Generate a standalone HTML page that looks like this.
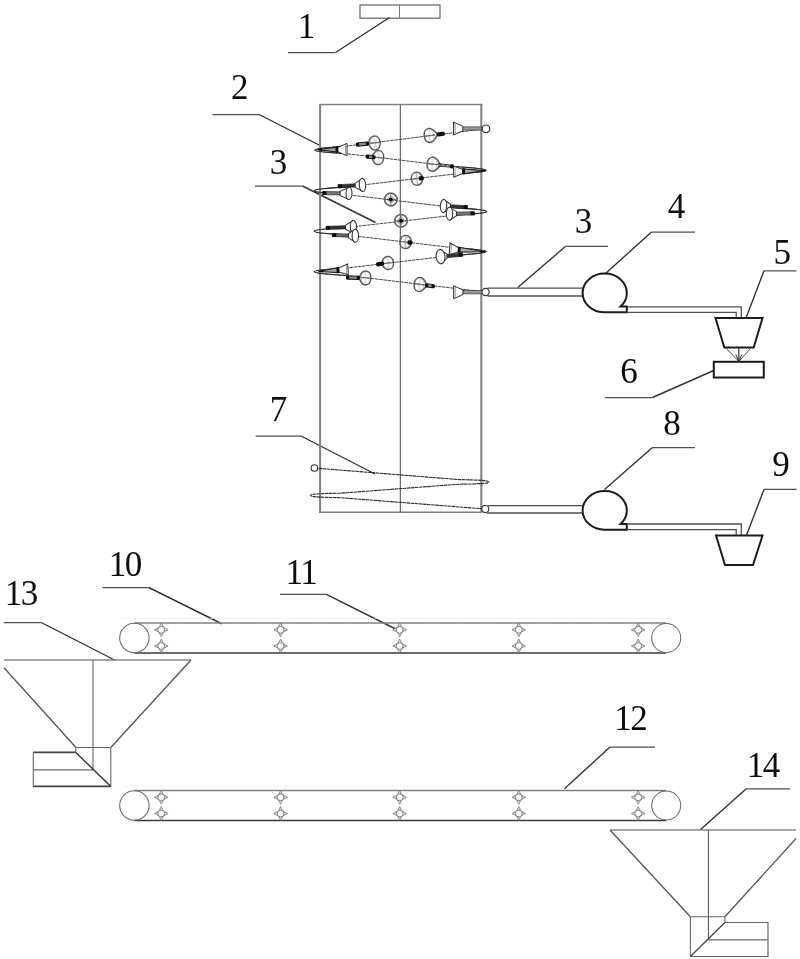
<!DOCTYPE html>
<html><head><meta charset="utf-8"><title>Figure</title>
<style>
html,body{margin:0;padding:0;background:#fff;}
body{width:800px;height:959px;overflow:hidden;font-family:"Liberation Serif",serif;}
svg{display:block;}
.lb{font-family:"Liberation Serif",serif;font-size:35px;fill:#111;}
</style></head><body>
<svg width="800" height="959" viewBox="0 0 800 959">
<rect width="800" height="959" fill="#fff"/>
<g filter="url(#soft)">
<rect x="360" y="5" width="80" height="13.2" fill="none" stroke="#606060" stroke-width="1.2"/>
<line x1="399.5" y1="5" x2="399.5" y2="18" stroke="#777" stroke-width="1" />
<line x1="288" y1="52.5" x2="335.5" y2="52.5" stroke="#505050" stroke-width="1.25" />
<line x1="335.5" y1="52.5" x2="389.5" y2="17.5" stroke="#333" stroke-width="1.4" />
<text x="297.80" y="38.20" class="lb">1</text>
<line x1="212.5" y1="114.5" x2="259" y2="114.5" stroke="#505050" stroke-width="1.25" />
<line x1="259" y1="114.5" x2="320" y2="145.5" stroke="#333" stroke-width="1.4" />
<text x="231.00" y="99.40" class="lb">2</text>
<line x1="255" y1="186" x2="302.5" y2="186" stroke="#505050" stroke-width="1.25" />
<line x1="302.5" y1="186" x2="375.5" y2="222.5" stroke="#333" stroke-width="1.4" />
<text x="269.80" y="174.20" class="lb">3</text>
<line x1="565.6" y1="246.3" x2="608" y2="246.3" stroke="#505050" stroke-width="1.25" />
<line x1="565.6" y1="246.3" x2="517.7" y2="287.5" stroke="#333" stroke-width="1.4" />
<text x="574.80" y="232.70" class="lb">3</text>
<line x1="651.5" y1="232.1" x2="695" y2="232.1" stroke="#505050" stroke-width="1.25" />
<line x1="651.5" y1="232.1" x2="605" y2="274" stroke="#333" stroke-width="1.4" />
<text x="667.80" y="218.40" class="lb">4</text>
<line x1="764" y1="270.8" x2="796.4" y2="270.8" stroke="#505050" stroke-width="1.25" />
<line x1="764" y1="270.8" x2="746" y2="318" stroke="#333" stroke-width="1.4" />
<text x="773.60" y="264.20" class="lb">5</text>
<line x1="605" y1="397.5" x2="652.5" y2="397.5" stroke="#505050" stroke-width="1.25" />
<line x1="652.5" y1="397.5" x2="713.75" y2="370.5" stroke="#333" stroke-width="1.4" />
<text x="620.30" y="382.70" class="lb">6</text>
<line x1="255.6" y1="436" x2="301" y2="436" stroke="#505050" stroke-width="1.25" />
<line x1="301" y1="436" x2="375" y2="474" stroke="#333" stroke-width="1.4" />
<text x="269.80" y="421.20" class="lb">7</text>
<line x1="652.5" y1="447.5" x2="695" y2="447.5" stroke="#505050" stroke-width="1.25" />
<line x1="652.5" y1="447.5" x2="604.5" y2="489.5" stroke="#333" stroke-width="1.4" />
<text x="663.30" y="435.20" class="lb">8</text>
<line x1="764" y1="489.4" x2="796.6" y2="489.4" stroke="#505050" stroke-width="1.25" />
<line x1="764" y1="489.4" x2="746.25" y2="536" stroke="#333" stroke-width="1.4" />
<text x="772.30" y="476.20" class="lb">9</text>
<line x1="102.5" y1="587.5" x2="148.75" y2="587.5" stroke="#505050" stroke-width="1.25" />
<line x1="148.75" y1="587.5" x2="221.75" y2="623.75" stroke="#333" stroke-width="1.4" />
<text x="108.80" y="575.70" class="lb" letter-spacing="-1.5">10</text>
<line x1="280" y1="594.4" x2="326.4" y2="594.4" stroke="#505050" stroke-width="1.25" />
<line x1="326.4" y1="594.4" x2="400.6" y2="631.5" stroke="#333" stroke-width="1.4" />
<text x="285.60" y="584.20" class="lb" letter-spacing="-1.5">11</text>
<line x1="610" y1="747" x2="655" y2="747" stroke="#505050" stroke-width="1.25" />
<line x1="610" y1="747" x2="564.5" y2="788.75" stroke="#333" stroke-width="1.4" />
<text x="614.30" y="730.20" class="lb" letter-spacing="-1.5">12</text>
<line x1="3.75" y1="622.5" x2="41.25" y2="622.5" stroke="#505050" stroke-width="1.25" />
<line x1="41.25" y1="622.5" x2="115.5" y2="660.5" stroke="#333" stroke-width="1.4" />
<text x="4.80" y="605.20" class="lb" letter-spacing="-1.5">13</text>
<line x1="746.25" y1="788.75" x2="790" y2="788.75" stroke="#505050" stroke-width="1.25" />
<line x1="746.25" y1="788.75" x2="700" y2="830" stroke="#333" stroke-width="1.4" />
<text x="746.70" y="776.60" class="lb" letter-spacing="-1.5">14</text>
<line x1="319.2" y1="104.6" x2="482.2" y2="104.6" stroke="#808080" stroke-width="1.5" />
<line x1="319.2" y1="512.3" x2="482.2" y2="512.3" stroke="#808080" stroke-width="1.5" />
<line x1="320.1" y1="104" x2="320.1" y2="513" stroke="#858585" stroke-width="2.1" />
<line x1="481.3" y1="104" x2="481.3" y2="513" stroke="#858585" stroke-width="2.1" />
<line x1="400.3" y1="104.5" x2="400.3" y2="512.3" stroke="#505050" stroke-width="1.05" />
<path d="M485.5,128.75 L347.3,146.0 C326.6,147.4 314.7,148.5 314.7,150.0 C314.7,151.5 326.6,152.5 347.3,153.8 L453.7,166.5 C474.4,167.8 486.3,168.8 486.3,170.3 C486.3,171.8 474.4,172.8 453.7,174.1 L346.8,186.9 C326.1,188.2 314.2,189.2 314.2,190.8 C314.2,192.2 326.1,193.3 346.8,194.6 L454.2,207.6 C474.9,208.9 486.8,210.0 486.8,211.5 C486.8,213.0 474.9,214.0 454.2,215.2 L346.8,227.5 C326.1,228.7 314.2,229.7 314.2,231.2 C314.2,232.7 326.1,233.7 346.8,235.0 L453.7,247.8 C474.4,249.1 486.3,250.1 486.3,251.6 C486.3,253.1 474.4,254.1 453.7,255.4 L346.8,268.0 C326.1,269.2 314.2,270.2 314.2,271.8 C314.2,273.2 326.1,274.3 346.8,275.5 L485.5,292" fill="none" stroke="#404040" stroke-width="0.95" stroke-dasharray="3.6 0.6"/>
<path d="M347.3,146.0 C326.6,147.4 314.7,148.5 314.7,150.0 C314.7,151.5 326.6,152.5 347.3,153.8" fill="none" stroke="#2a2a2a" stroke-width="1.15"/>
<path d="M453.7,166.5 C474.4,167.8 486.3,168.8 486.3,170.3 C486.3,171.8 474.4,172.8 453.7,174.1" fill="none" stroke="#2a2a2a" stroke-width="1.15"/>
<path d="M346.8,186.9 C326.1,188.2 314.2,189.2 314.2,190.8 C314.2,192.2 326.1,193.3 346.8,194.6" fill="none" stroke="#2a2a2a" stroke-width="1.15"/>
<path d="M454.2,207.6 C474.9,208.9 486.8,210.0 486.8,211.5 C486.8,213.0 474.9,214.0 454.2,215.2" fill="none" stroke="#2a2a2a" stroke-width="1.15"/>
<path d="M346.8,227.5 C326.1,228.7 314.2,229.7 314.2,231.2 C314.2,232.7 326.1,233.7 346.8,235.0" fill="none" stroke="#2a2a2a" stroke-width="1.15"/>
<path d="M453.7,247.8 C474.4,249.1 486.3,250.1 486.3,251.6 C486.3,253.1 474.4,254.1 453.7,255.4" fill="none" stroke="#2a2a2a" stroke-width="1.15"/>
<path d="M346.8,268.0 C326.1,269.2 314.2,270.2 314.2,271.8 C314.2,273.2 326.1,274.3 346.8,275.5" fill="none" stroke="#2a2a2a" stroke-width="1.15"/>
<g transform="translate(453.5,128.5) rotate(0) scale(1,1)"><polygon points="0,-6.5 9.5,-2.2 9.5,2.2 0,6.5" fill="#fff" stroke="#333" stroke-width="1"/><line x1="1.6" y1="-5.7" x2="1.6" y2="5.7" stroke="#666" stroke-width="0.7"/><rect x="9.5" y="-1.6" width="19" height="3.2" fill="#999" stroke="#222" stroke-width="0.6"/></g>
<g transform="translate(347,149.6) rotate(0) scale(-1,1)"><polygon points="0,-6.3 9.5,-1.9 9.5,1.9 0,6.3" fill="#fff" stroke="#333" stroke-width="1"/><line x1="1.5" y1="-5.5" x2="1.5" y2="5.5" stroke="#777" stroke-width="0.7"/><polygon points="9.5,-2.5 29.5,0 9.5,2.5" fill="#aaa" stroke="#222" stroke-width="1.15"/><rect x="8.7" y="-2.9" width="2.8" height="5.8" fill="#111"/><polygon points="25.0,-1.3 30.0,0 25.0,1.3" fill="#111"/></g>
<g transform="translate(348,269.4) rotate(-4) scale(-1,1)"><polygon points="0,-5.4 9.5,-1.9 9.5,1.9 0,5.4" fill="#fff" stroke="#333" stroke-width="1"/><line x1="1.5" y1="-4.6000000000000005" x2="1.5" y2="4.6000000000000005" stroke="#777" stroke-width="0.7"/><polygon points="9.5,-2.5 29.5,0 9.5,2.5" fill="#aaa" stroke="#222" stroke-width="1.15"/><rect x="8.7" y="-2.9" width="2.8" height="5.8" fill="#111"/><polygon points="25.0,-1.3 30.0,0 25.0,1.3" fill="#111"/></g>
<g transform="translate(453.6,292.3) rotate(0) scale(1,1)"><polygon points="0,-6.5 9.5,-2.2 9.5,2.2 0,6.5" fill="#fff" stroke="#333" stroke-width="1"/><line x1="1.6" y1="-5.7" x2="1.6" y2="5.7" stroke="#666" stroke-width="0.7"/><rect x="9.5" y="-1.6" width="19" height="3.2" fill="#999" stroke="#222" stroke-width="0.6"/></g>
<g transform="translate(453.6,171.7) rotate(-2) scale(1,1)"><polygon points="0,-5.6 9.5,-1.9 9.5,1.9 0,5.6" fill="#fff" stroke="#333" stroke-width="1"/><line x1="1.5" y1="-4.8" x2="1.5" y2="4.8" stroke="#777" stroke-width="0.7"/><polygon points="9.5,-2.5 32.0,0 9.5,2.5" fill="#aaa" stroke="#222" stroke-width="1.15"/><rect x="8.7" y="-2.9" width="2.8" height="5.8" fill="#111"/><polygon points="27.5,-1.3 32.5,0 27.5,1.3" fill="#111"/></g>
<g transform="translate(362.5,185) rotate(-3) scale(-1,1)"><polygon points="0,-6.5 7.5,-2 7.5,2 0,6.5" fill="#fff" stroke="#333" stroke-width="1"/><ellipse cx="0" cy="0" rx="3.2" ry="6.5" fill="#fff" stroke="#333" stroke-width="1.1"/><rect x="7.5" y="-1.6" width="17" height="3.2" fill="#333" stroke="#222" stroke-width="0.6"/><rect x="20.5" y="-1.9" width="4" height="3.8" fill="#111"/></g>
<g transform="translate(349,193.5) rotate(1) scale(-1,1)"><polygon points="0,-6 9,-2 9,2 0,6" fill="#fff" stroke="#333" stroke-width="1"/><ellipse cx="0" cy="0" rx="3" ry="6" fill="#fff" stroke="#333" stroke-width="1.1"/><rect x="9" y="-1.6" width="17.5" height="3.2" fill="#777" stroke="#222" stroke-width="0.6"/><rect x="22.5" y="-1.9" width="4" height="3.8" fill="#111"/></g>
<g transform="translate(443.5,206) rotate(3) scale(1,1)"><polygon points="0,-6.5 7,-2 7,2 0,6.5" fill="#fff" stroke="#333" stroke-width="1"/><ellipse cx="0" cy="0" rx="3.2" ry="6.5" fill="#fff" stroke="#333" stroke-width="1.1"/><rect x="7" y="-1.6" width="17" height="3.2" fill="#333" stroke="#222" stroke-width="0.6"/><rect x="20" y="-1.9" width="4" height="3.8" fill="#111"/></g>
<g transform="translate(449.5,213.8) rotate(-1) scale(1,1)"><polygon points="0,-6.5 7,-2 7,2 0,6.5" fill="#fff" stroke="#333" stroke-width="1"/><ellipse cx="0" cy="0" rx="3.2" ry="6.5" fill="#fff" stroke="#333" stroke-width="1.1"/><rect x="7" y="-1.6" width="18" height="3.2" fill="#777" stroke="#222" stroke-width="0.6"/><rect x="21" y="-1.9" width="4" height="3.8" fill="#111"/></g>
<g transform="translate(353.5,227) rotate(-2) scale(-1,1)"><polygon points="0,-6.5 8,-2 8,2 0,6.5" fill="#fff" stroke="#333" stroke-width="1"/><ellipse cx="0" cy="0" rx="3.2" ry="6.5" fill="#fff" stroke="#333" stroke-width="1.1"/><rect x="8" y="-1.6" width="19.5" height="3.2" fill="#333" stroke="#222" stroke-width="0.6"/><rect x="23.5" y="-1.9" width="4" height="3.8" fill="#111"/></g>
<g transform="translate(355.3,235.8) rotate(2) scale(-1,1)"><polygon points="0,-6.5 7,-2 7,2 0,6.5" fill="#fff" stroke="#333" stroke-width="1"/><ellipse cx="0" cy="0" rx="3.2" ry="6.5" fill="#fff" stroke="#333" stroke-width="1.1"/><rect x="7" y="-1.6" width="16" height="3.2" fill="#666" stroke="#222" stroke-width="0.6"/><rect x="19" y="-1.9" width="4" height="3.8" fill="#111"/></g>
<g transform="translate(449.6,249) rotate(4.5) scale(1,1)"><polygon points="0,-6 9,-1.9 9,1.9 0,6" fill="#fff" stroke="#333" stroke-width="1"/><line x1="1.5" y1="-5.2" x2="1.5" y2="5.2" stroke="#777" stroke-width="0.7"/><polygon points="9,-2.5 35.5,0 9,2.5" fill="#aaa" stroke="#222" stroke-width="1.15"/><rect x="8.2" y="-2.9" width="2.8" height="5.8" fill="#111"/><polygon points="31.0,-1.3 36.0,0 31.0,1.3" fill="#111"/></g>
<g transform="translate(440.6,256.6) rotate(-5) scale(1,1)"><polygon points="0,-7.2 6.5,-2 6.5,2 0,7.2" fill="#fff" stroke="#333" stroke-width="1"/><ellipse cx="0" cy="0" rx="4.4" ry="7.2" fill="#fff" stroke="#333" stroke-width="1.1"/><rect x="6.5" y="-1.6" width="15.5" height="3.2" fill="#333" stroke="#222" stroke-width="0.6"/><rect x="18.0" y="-1.9" width="4" height="3.8" fill="#111"/></g>
<g transform="translate(429.5,135.5) rotate(-7) scale(1,1)"><path d="M0,-7 C-7.182000000000001,-7 -7.182000000000001,7 0,7 C4.050000000000001,7 5.4,3.15 8.4,0 C5.4,-3.15 4.050000000000001,-7 0,-7Z" fill="none" stroke="#5a5a5a" stroke-width="1.5"/><ellipse cx="1.89" cy="0" rx="2.43" ry="5.6000000000000005" fill="none" stroke="#aaa" stroke-width="0.6"/><line x1="-5.4" y1="0" x2="5.4" y2="0" stroke="#666" stroke-width="0.8"/><rect x="7.5" y="-2.1" width="8.0" height="4.2" rx="1.4" fill="#111"/></g>
<g transform="translate(374.8,143) rotate(-5) scale(-1,1)"><path d="M0,-7 C-7.182000000000001,-7 -7.182000000000001,7 0,7 C4.050000000000001,7 5.4,3.15 6.4,0 C5.4,-3.15 4.050000000000001,-7 0,-7Z" fill="none" stroke="#5a5a5a" stroke-width="1.5"/><ellipse cx="1.89" cy="0" rx="2.43" ry="5.6000000000000005" fill="none" stroke="#aaa" stroke-width="0.6"/><line x1="-5.4" y1="0" x2="5.4" y2="0" stroke="#666" stroke-width="0.8"/><rect x="5.8" y="-2.1" width="13.2" height="4.2" rx="1.4" fill="#111"/><rect x="9.0" y="-1.2" width="6.799999999999999" height="2.4" fill="#8a8a8a"/></g>
<g transform="translate(378.3,157.6) rotate(5) scale(-1,1)"><path d="M0,-7 C-7.182000000000001,-7 -7.182000000000001,7 0,7 C4.050000000000001,7 5.4,3.15 6.4,0 C5.4,-3.15 4.050000000000001,-7 0,-7Z" fill="none" stroke="#5a5a5a" stroke-width="1.5"/><ellipse cx="1.89" cy="0" rx="2.43" ry="5.6000000000000005" fill="none" stroke="#aaa" stroke-width="0.6"/><line x1="-5.4" y1="0" x2="5.4" y2="0" stroke="#666" stroke-width="0.8"/><rect x="2.8" y="-2.1" width="9.8" height="4.2" rx="1.4" fill="#111"/><rect x="6.0" y="-1.2" width="3.4000000000000004" height="2.4" fill="#8a8a8a"/></g>
<g transform="translate(432.5,164.3) rotate(6) scale(1,1)"><path d="M0,-7 C-7.182000000000001,-7 -7.182000000000001,7 0,7 C4.050000000000001,7 5.4,3.15 8.4,0 C5.4,-3.15 4.050000000000001,-7 0,-7Z" fill="none" stroke="#5a5a5a" stroke-width="1.5"/><ellipse cx="1.89" cy="0" rx="2.43" ry="5.6000000000000005" fill="none" stroke="#aaa" stroke-width="0.6"/><line x1="-5.4" y1="0" x2="5.4" y2="0" stroke="#666" stroke-width="0.8"/><rect x="17.5" y="-2.1" width="4.0" height="4.2" rx="1.4" fill="#111"/></g>
<line x1="438" y1="163.6" x2="450" y2="165" stroke="#222" stroke-width="0.9" />
<line x1="438" y1="166" x2="450" y2="167.2" stroke="#222" stroke-width="0.9" />
<g transform="translate(416.8,178.8) rotate(-7) scale(1,1)"><path d="M0,-6.5 C-7.315,-6.5 -7.315,6.5 0,6.5 C4.125,6.5 5.5,2.9250000000000003 6.0,0 C5.5,-2.9250000000000003 4.125,-6.5 0,-6.5Z" fill="none" stroke="#5a5a5a" stroke-width="1.5"/><ellipse cx="1.9249999999999998" cy="0" rx="2.475" ry="5.2" fill="none" stroke="#aaa" stroke-width="0.6"/><line x1="-5.5" y1="0" x2="5.5" y2="0" stroke="#666" stroke-width="0.8"/><line x1="0" y1="-6.5" x2="0" y2="6.5" stroke="#999" stroke-width="0.6"/><rect x="2" y="-2.1" width="5" height="4.2" rx="1.4" fill="#111"/></g>
<circle cx="390.8" cy="199.5" r="6.3" fill="none" stroke="#666" stroke-width="1.7"/>
<circle cx="390.8" cy="199.5" r="3.15" fill="none" stroke="#888" stroke-width="0.7"/>
<line x1="384.5" y1="199.5" x2="397.1" y2="199.5" stroke="#555" stroke-width="0.8" />
<line x1="390.8" y1="193.2" x2="390.8" y2="205.8" stroke="#666" stroke-width="0.8" />
<circle cx="390.8" cy="199.5" r="2.1" fill="#111"/>
<circle cx="401" cy="220.8" r="6.3" fill="none" stroke="#666" stroke-width="1.7"/>
<circle cx="401" cy="220.8" r="3.15" fill="none" stroke="#888" stroke-width="0.7"/>
<line x1="394.7" y1="220.8" x2="407.3" y2="220.8" stroke="#555" stroke-width="0.8" />
<line x1="401" y1="214.5" x2="401" y2="227.10000000000002" stroke="#666" stroke-width="0.8" />
<circle cx="401" cy="220.8" r="2.1" fill="#111"/>
<g transform="translate(405.5,242) rotate(7) scale(1,1)"><path d="M0,-6.5 C-7.315,-6.5 -7.315,6.5 0,6.5 C4.125,6.5 5.5,2.9250000000000003 6.0,0 C5.5,-2.9250000000000003 4.125,-6.5 0,-6.5Z" fill="none" stroke="#5a5a5a" stroke-width="1.5"/><ellipse cx="1.9249999999999998" cy="0" rx="2.475" ry="5.2" fill="none" stroke="#aaa" stroke-width="0.6"/><line x1="-5.5" y1="0" x2="5.5" y2="0" stroke="#666" stroke-width="0.8"/><line x1="0" y1="-6.5" x2="0" y2="6.5" stroke="#999" stroke-width="0.6"/><rect x="2" y="-2.1" width="5" height="4.2" rx="1.4" fill="#111"/></g>
<g transform="translate(388,263) rotate(-7) scale(-1,1)"><path d="M0,-6.5 C-7.315,-6.5 -7.315,6.5 0,6.5 C4.125,6.5 5.5,2.9250000000000003 6.5,0 C5.5,-2.9250000000000003 4.125,-6.5 0,-6.5Z" fill="none" stroke="#5a5a5a" stroke-width="1.5"/><ellipse cx="1.9249999999999998" cy="0" rx="2.475" ry="5.2" fill="none" stroke="#aaa" stroke-width="0.6"/><line x1="-5.5" y1="0" x2="5.5" y2="0" stroke="#666" stroke-width="0.8"/><rect x="4" y="-2.1" width="8" height="4.2" rx="1.4" fill="#111"/></g>
<g transform="translate(365.5,277.9) rotate(1) scale(-1,1)"><path d="M0,-7 C-7.182000000000001,-7 -7.182000000000001,7 0,7 C4.050000000000001,7 5.4,3.15 6.4,0 C5.4,-3.15 4.050000000000001,-7 0,-7Z" fill="none" stroke="#5a5a5a" stroke-width="1.5"/><ellipse cx="1.89" cy="0" rx="2.43" ry="5.6000000000000005" fill="none" stroke="#aaa" stroke-width="0.6"/><line x1="-5.4" y1="0" x2="5.4" y2="0" stroke="#666" stroke-width="0.8"/><rect x="5.5" y="-2.1" width="14.0" height="4.2" rx="1.4" fill="#111"/><rect x="8.7" y="-1.2" width="7.6" height="2.4" fill="#8a8a8a"/></g>
<g transform="translate(419.5,284.5) rotate(7) scale(1,1)"><path d="M0,-7 C-7.182000000000001,-7 -7.182000000000001,7 0,7 C4.050000000000001,7 5.4,3.15 7.4,0 C5.4,-3.15 4.050000000000001,-7 0,-7Z" fill="none" stroke="#5a5a5a" stroke-width="1.5"/><ellipse cx="1.89" cy="0" rx="2.43" ry="5.6000000000000005" fill="none" stroke="#aaa" stroke-width="0.6"/><line x1="-5.4" y1="0" x2="5.4" y2="0" stroke="#666" stroke-width="0.8"/><rect x="5.5" y="-2.1" width="10.0" height="4.2" rx="1.4" fill="#111"/><rect x="8.7" y="-1.2" width="3.5999999999999996" height="2.4" fill="#8a8a8a"/></g>
<circle cx="486" cy="128.8" r="3.8" fill="#fff" stroke="#333" stroke-width="1.2"/>
<circle cx="485.6" cy="292" r="3.6" fill="#fff" stroke="#333" stroke-width="1.2"/>
<path d="M314.4,468 L458.9,479.6 C478.3,480.0 488.8,480.4 488.8,482.0 C488.8,483.6 478.3,483.9 458.9,484.2 L340.5,493.2 C321.1,493.5 310.6,493.8 310.6,495.4 C310.6,497.0 321.1,497.3 340.5,497.7 L485.3,509" fill="none" stroke="#2a2a2a" stroke-width="1.1" stroke-dasharray="3.6 0.5"/>
<circle cx="314.4" cy="468" r="3.3" fill="#fff" stroke="#333" stroke-width="1.1"/>
<circle cx="485.3" cy="509" r="3.5" fill="#fff" stroke="#333" stroke-width="1.1"/>
<line x1="487.5" y1="288.2" x2="583" y2="288.2" stroke="#505050" stroke-width="1.3" />
<line x1="487.5" y1="296" x2="583" y2="296" stroke="#505050" stroke-width="1.3" />
<path d="M604.7,312.3 A22.099999999999966,19.349999999999994 0 0 1 582.6,292.95000000000005 A22.099999999999966,19.349999999999994 0 0 1 604.7,273.6 A22.099999999999966,19.349999999999994 0 0 1 626.8,292.95000000000005 A22.099999999999966,19.349999999999994 0 0 1 620.59,306.40000000000003 L626.8,306.40000000000003 L626.8,312.3 Z" fill="#fff" stroke="#1c1c1c" stroke-width="2" stroke-linejoin="miter"/>
<polyline points="627,306.9 741.3,306.9 741.3,318" stroke="#505050" stroke-width="1.3" fill="none" />
<polyline points="627,312.4 736.2,312.4 736.2,318" stroke="#505050" stroke-width="1.3" fill="none" />
<polygon points="715.5,318 762.5,318 753.7,347.5 724.3,347.5" stroke="#1c1c1c" stroke-width="2" fill="#fff" />
<line x1="738.8" y1="347.5" x2="738.8" y2="361" stroke="#333" stroke-width="1.2" />
<line x1="726.5" y1="348.5" x2="738.8" y2="361.5" stroke="#444" stroke-width="1" />
<line x1="750.5" y1="348.5" x2="738.8" y2="361.5" stroke="#444" stroke-width="1" />
<polyline points="735.8,354.5 738.8,361.5 741.8,354.5" stroke="#333" stroke-width="1" fill="none" />
<rect x="713.8" y="361.8" width="50" height="15.7" fill="#fff" stroke="#1c1c1c" stroke-width="2"/>
<line x1="488" y1="505.6" x2="583" y2="505.6" stroke="#505050" stroke-width="1.3" />
<line x1="486.5" y1="513" x2="583" y2="513" stroke="#505050" stroke-width="1.3" />
<path d="M604.7,529.8 A22.099999999999966,19.399999999999977 0 0 1 582.6,510.4 A22.099999999999966,19.399999999999977 0 0 1 604.7,491 A22.099999999999966,19.399999999999977 0 0 1 626.8,510.4 A22.099999999999966,19.399999999999977 0 0 1 620.57,523.9 L626.8,523.9 L626.8,529.8 Z" fill="#fff" stroke="#1c1c1c" stroke-width="2" stroke-linejoin="miter"/>
<polyline points="627,524 741.3,524 741.3,535.5" stroke="#505050" stroke-width="1.3" fill="none" />
<polyline points="627,529.6 736.2,529.6 736.2,535.5" stroke="#505050" stroke-width="1.3" fill="none" />
<polygon points="716,535.5 762.5,535.5 753,565 725,565" stroke="#1c1c1c" stroke-width="2" fill="#fff" />
<line x1="134.4" y1="623" x2="666.2" y2="623" stroke="#808080" stroke-width="1.3" />
<line x1="134.4" y1="653" x2="666.2" y2="653" stroke="#3a3a3a" stroke-width="1.4" />
<line x1="123" y1="618.5" x2="672" y2="618.5" stroke="#e6e6e6" stroke-width="0.8" stroke-dasharray="2 1.5"/>
<circle cx="134.4" cy="638" r="14.7" fill="none" stroke="#6a6a6a" stroke-width="1.05"/>
<circle cx="666.2" cy="638" r="14.5" fill="none" stroke="#6a6a6a" stroke-width="1.05"/>
<path d="M161.25,622.9 L163.45,627.1999999999999 L159.05,627.1999999999999Z M161.25,636.6999999999999 L163.45,632.4 L159.05,632.4Z M154.35,629.8 L158.65,627.5999999999999 L158.65,632.0Z M168.15,629.8 L163.85,627.5999999999999 L163.85,632.0Z" fill="#ddd" stroke="#777" stroke-width="0.8"/>
<circle cx="161.25" cy="629.8" r="3.4" fill="#fff" stroke="#777" stroke-width="0.9"/>
<path d="M161.25,639.1 L163.45,643.4 L159.05,643.4Z M161.25,652.9 L163.45,648.6 L159.05,648.6Z M154.35,646 L158.65,643.8 L158.65,648.2Z M168.15,646 L163.85,643.8 L163.85,648.2Z" fill="#ddd" stroke="#777" stroke-width="0.8"/>
<circle cx="161.25" cy="646" r="3.4" fill="#fff" stroke="#777" stroke-width="0.9"/>
<path d="M280.6,622.9 L282.8,627.1999999999999 L278.40000000000003,627.1999999999999Z M280.6,636.6999999999999 L282.8,632.4 L278.40000000000003,632.4Z M273.70000000000005,629.8 L278.0,627.5999999999999 L278.0,632.0Z M287.5,629.8 L283.20000000000005,627.5999999999999 L283.20000000000005,632.0Z" fill="#ddd" stroke="#777" stroke-width="0.8"/>
<circle cx="280.6" cy="629.8" r="3.4" fill="#fff" stroke="#777" stroke-width="0.9"/>
<path d="M280.6,639.1 L282.8,643.4 L278.40000000000003,643.4Z M280.6,652.9 L282.8,648.6 L278.40000000000003,648.6Z M273.70000000000005,646 L278.0,643.8 L278.0,648.2Z M287.5,646 L283.20000000000005,643.8 L283.20000000000005,648.2Z" fill="#ddd" stroke="#777" stroke-width="0.8"/>
<circle cx="280.6" cy="646" r="3.4" fill="#fff" stroke="#777" stroke-width="0.9"/>
<path d="M399.7,622.9 L401.9,627.1999999999999 L397.5,627.1999999999999Z M399.7,636.6999999999999 L401.9,632.4 L397.5,632.4Z M392.8,629.8 L397.09999999999997,627.5999999999999 L397.09999999999997,632.0Z M406.59999999999997,629.8 L402.3,627.5999999999999 L402.3,632.0Z" fill="#ddd" stroke="#777" stroke-width="0.8"/>
<circle cx="399.7" cy="629.8" r="3.4" fill="#fff" stroke="#777" stroke-width="0.9"/>
<path d="M399.7,639.1 L401.9,643.4 L397.5,643.4Z M399.7,652.9 L401.9,648.6 L397.5,648.6Z M392.8,646 L397.09999999999997,643.8 L397.09999999999997,648.2Z M406.59999999999997,646 L402.3,643.8 L402.3,648.2Z" fill="#ddd" stroke="#777" stroke-width="0.8"/>
<circle cx="399.7" cy="646" r="3.4" fill="#fff" stroke="#777" stroke-width="0.9"/>
<path d="M518.8,622.9 L521.0,627.1999999999999 L516.5999999999999,627.1999999999999Z M518.8,636.6999999999999 L521.0,632.4 L516.5999999999999,632.4Z M511.9,629.8 L516.1999999999999,627.5999999999999 L516.1999999999999,632.0Z M525.6999999999999,629.8 L521.4,627.5999999999999 L521.4,632.0Z" fill="#ddd" stroke="#777" stroke-width="0.8"/>
<circle cx="518.8" cy="629.8" r="3.4" fill="#fff" stroke="#777" stroke-width="0.9"/>
<path d="M518.8,639.1 L521.0,643.4 L516.5999999999999,643.4Z M518.8,652.9 L521.0,648.6 L516.5999999999999,648.6Z M511.9,646 L516.1999999999999,643.8 L516.1999999999999,648.2Z M525.6999999999999,646 L521.4,643.8 L521.4,648.2Z" fill="#ddd" stroke="#777" stroke-width="0.8"/>
<circle cx="518.8" cy="646" r="3.4" fill="#fff" stroke="#777" stroke-width="0.9"/>
<path d="M638.2,622.9 L640.4000000000001,627.1999999999999 L636.0,627.1999999999999Z M638.2,636.6999999999999 L640.4000000000001,632.4 L636.0,632.4Z M631.3000000000001,629.8 L635.6,627.5999999999999 L635.6,632.0Z M645.1,629.8 L640.8000000000001,627.5999999999999 L640.8000000000001,632.0Z" fill="#ddd" stroke="#777" stroke-width="0.8"/>
<circle cx="638.2" cy="629.8" r="3.4" fill="#fff" stroke="#777" stroke-width="0.9"/>
<path d="M638.2,639.1 L640.4000000000001,643.4 L636.0,643.4Z M638.2,652.9 L640.4000000000001,648.6 L636.0,648.6Z M631.3000000000001,646 L635.6,643.8 L635.6,648.2Z M645.1,646 L640.8000000000001,643.8 L640.8000000000001,648.2Z" fill="#ddd" stroke="#777" stroke-width="0.8"/>
<circle cx="638.2" cy="646" r="3.4" fill="#fff" stroke="#777" stroke-width="0.9"/>
<line x1="134.4" y1="790.5" x2="666.2" y2="790.5" stroke="#808080" stroke-width="1.3" />
<line x1="134.4" y1="820.5" x2="666.2" y2="820.5" stroke="#3a3a3a" stroke-width="1.4" />
<line x1="123" y1="786.0" x2="672" y2="786.0" stroke="#e6e6e6" stroke-width="0.8" stroke-dasharray="2 1.5"/>
<circle cx="134.4" cy="805.5" r="14.7" fill="none" stroke="#6a6a6a" stroke-width="1.05"/>
<circle cx="666.2" cy="805.5" r="14.5" fill="none" stroke="#6a6a6a" stroke-width="1.05"/>
<path d="M161.25,790.4 L163.45,794.6999999999999 L159.05,794.6999999999999Z M161.25,804.1999999999999 L163.45,799.9 L159.05,799.9Z M154.35,797.3 L158.65,795.0999999999999 L158.65,799.5Z M168.15,797.3 L163.85,795.0999999999999 L163.85,799.5Z" fill="#ddd" stroke="#777" stroke-width="0.8"/>
<circle cx="161.25" cy="797.3" r="3.4" fill="#fff" stroke="#777" stroke-width="0.9"/>
<path d="M161.25,806.6 L163.45,810.9 L159.05,810.9Z M161.25,820.4 L163.45,816.1 L159.05,816.1Z M154.35,813.5 L158.65,811.3 L158.65,815.7Z M168.15,813.5 L163.85,811.3 L163.85,815.7Z" fill="#ddd" stroke="#777" stroke-width="0.8"/>
<circle cx="161.25" cy="813.5" r="3.4" fill="#fff" stroke="#777" stroke-width="0.9"/>
<path d="M280.6,790.4 L282.8,794.6999999999999 L278.40000000000003,794.6999999999999Z M280.6,804.1999999999999 L282.8,799.9 L278.40000000000003,799.9Z M273.70000000000005,797.3 L278.0,795.0999999999999 L278.0,799.5Z M287.5,797.3 L283.20000000000005,795.0999999999999 L283.20000000000005,799.5Z" fill="#ddd" stroke="#777" stroke-width="0.8"/>
<circle cx="280.6" cy="797.3" r="3.4" fill="#fff" stroke="#777" stroke-width="0.9"/>
<path d="M280.6,806.6 L282.8,810.9 L278.40000000000003,810.9Z M280.6,820.4 L282.8,816.1 L278.40000000000003,816.1Z M273.70000000000005,813.5 L278.0,811.3 L278.0,815.7Z M287.5,813.5 L283.20000000000005,811.3 L283.20000000000005,815.7Z" fill="#ddd" stroke="#777" stroke-width="0.8"/>
<circle cx="280.6" cy="813.5" r="3.4" fill="#fff" stroke="#777" stroke-width="0.9"/>
<path d="M399.7,790.4 L401.9,794.6999999999999 L397.5,794.6999999999999Z M399.7,804.1999999999999 L401.9,799.9 L397.5,799.9Z M392.8,797.3 L397.09999999999997,795.0999999999999 L397.09999999999997,799.5Z M406.59999999999997,797.3 L402.3,795.0999999999999 L402.3,799.5Z" fill="#ddd" stroke="#777" stroke-width="0.8"/>
<circle cx="399.7" cy="797.3" r="3.4" fill="#fff" stroke="#777" stroke-width="0.9"/>
<path d="M399.7,806.6 L401.9,810.9 L397.5,810.9Z M399.7,820.4 L401.9,816.1 L397.5,816.1Z M392.8,813.5 L397.09999999999997,811.3 L397.09999999999997,815.7Z M406.59999999999997,813.5 L402.3,811.3 L402.3,815.7Z" fill="#ddd" stroke="#777" stroke-width="0.8"/>
<circle cx="399.7" cy="813.5" r="3.4" fill="#fff" stroke="#777" stroke-width="0.9"/>
<path d="M518.8,790.4 L521.0,794.6999999999999 L516.5999999999999,794.6999999999999Z M518.8,804.1999999999999 L521.0,799.9 L516.5999999999999,799.9Z M511.9,797.3 L516.1999999999999,795.0999999999999 L516.1999999999999,799.5Z M525.6999999999999,797.3 L521.4,795.0999999999999 L521.4,799.5Z" fill="#ddd" stroke="#777" stroke-width="0.8"/>
<circle cx="518.8" cy="797.3" r="3.4" fill="#fff" stroke="#777" stroke-width="0.9"/>
<path d="M518.8,806.6 L521.0,810.9 L516.5999999999999,810.9Z M518.8,820.4 L521.0,816.1 L516.5999999999999,816.1Z M511.9,813.5 L516.1999999999999,811.3 L516.1999999999999,815.7Z M525.6999999999999,813.5 L521.4,811.3 L521.4,815.7Z" fill="#ddd" stroke="#777" stroke-width="0.8"/>
<circle cx="518.8" cy="813.5" r="3.4" fill="#fff" stroke="#777" stroke-width="0.9"/>
<path d="M638.2,790.4 L640.4000000000001,794.6999999999999 L636.0,794.6999999999999Z M638.2,804.1999999999999 L640.4000000000001,799.9 L636.0,799.9Z M631.3000000000001,797.3 L635.6,795.0999999999999 L635.6,799.5Z M645.1,797.3 L640.8000000000001,795.0999999999999 L640.8000000000001,799.5Z" fill="#ddd" stroke="#777" stroke-width="0.8"/>
<circle cx="638.2" cy="797.3" r="3.4" fill="#fff" stroke="#777" stroke-width="0.9"/>
<path d="M638.2,806.6 L640.4000000000001,810.9 L636.0,810.9Z M638.2,820.4 L640.4000000000001,816.1 L636.0,816.1Z M631.3000000000001,813.5 L635.6,811.3 L635.6,815.7Z M645.1,813.5 L640.8000000000001,811.3 L640.8000000000001,815.7Z" fill="#ddd" stroke="#777" stroke-width="0.8"/>
<circle cx="638.2" cy="813.5" r="3.4" fill="#fff" stroke="#777" stroke-width="0.9"/>
<line x1="4" y1="660" x2="191" y2="660" stroke="#888" stroke-width="1.3" />
<line x1="4" y1="667.8" x2="76" y2="747.5" stroke="#555" stroke-width="1.3" />
<line x1="191" y1="660" x2="111" y2="747.3" stroke="#555" stroke-width="1.3" />
<line x1="93" y1="660" x2="93" y2="770" stroke="#5a5a5a" stroke-width="1.05" />
<polyline points="75.8,752.4 75.8,747.5 110.8,747.5 110.8,786.4" stroke="#666" stroke-width="1.1" fill="none" />
<line x1="33.3" y1="752.4" x2="75.8" y2="752.4" stroke="#444" stroke-width="1.6" />
<line x1="33.3" y1="752.4" x2="33.3" y2="786.4" stroke="#666" stroke-width="1.1" />
<line x1="33.3" y1="786.4" x2="110.8" y2="786.4" stroke="#444" stroke-width="1.7" />
<line x1="33.3" y1="769.9" x2="93" y2="769.9" stroke="#666" stroke-width="1.2" />
<line x1="75.8" y1="752.4" x2="110.8" y2="786.4" stroke="#333" stroke-width="1.4" />
<line x1="610" y1="830" x2="796" y2="830" stroke="#888" stroke-width="1.3" />
<line x1="610" y1="830" x2="690.4" y2="916.8" stroke="#555" stroke-width="1.3" />
<line x1="796" y1="838.5" x2="724.9" y2="916.8" stroke="#555" stroke-width="1.3" />
<line x1="708.4" y1="830" x2="708.4" y2="939.9" stroke="#5a5a5a" stroke-width="1.05" />
<polyline points="690.4,956.5 690.4,916.8 724.9,916.8 724.9,922.5" stroke="#666" stroke-width="1.1" fill="none" />
<polyline points="724.9,922.5 768,922.5 768,956.5 690.4,956.5" stroke="#666" stroke-width="1.2" fill="none" />
<line x1="708.4" y1="939.9" x2="768" y2="939.9" stroke="#666" stroke-width="1.2" />
<line x1="724.9" y1="922.5" x2="690.4" y2="956.5" stroke="#444" stroke-width="1.3" />
</g>
<defs><filter id="soft" x="0" y="0" width="100%" height="100%" filterUnits="userSpaceOnUse"><feGaussianBlur stdDeviation="0.45"/></filter></defs>
</svg>
</body></html>
